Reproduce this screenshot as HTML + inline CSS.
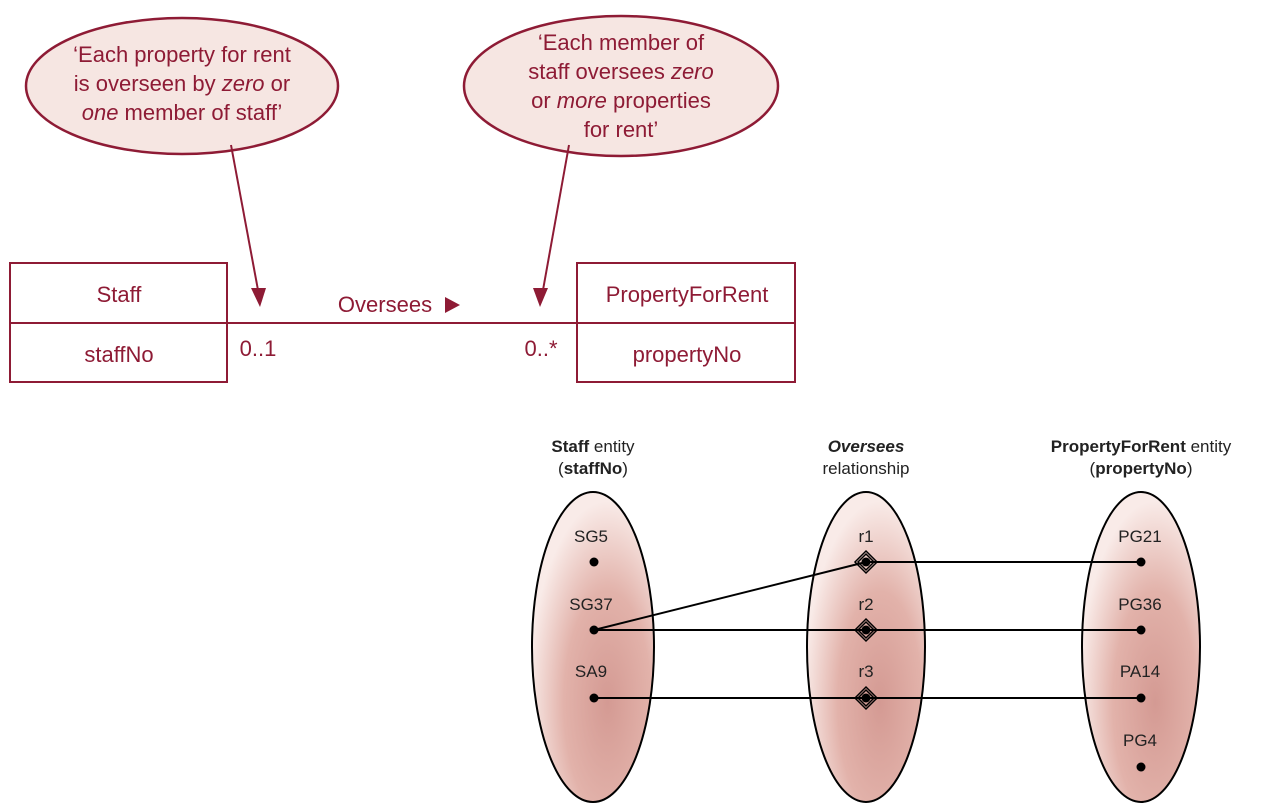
<!DOCTYPE html>
<html><head><style>body{margin:0;background:#fff}</style></head><body>
<svg width="1264" height="807" viewBox="0 0 1264 807" xmlns="http://www.w3.org/2000/svg">
<defs>
<radialGradient id="g" cx="0.62" cy="0.68" r="0.65">
<stop offset="0" stop-color="#d49a93"/><stop offset="0.55" stop-color="#e2b2aa"/><stop offset="1" stop-color="#f9ebe8"/>
</radialGradient>
</defs>
<g font-family="'Liberation Sans Narrow','Liberation Sans',sans-serif" fill="#8e1b35" font-size="22" text-anchor="middle">
<ellipse cx="182" cy="86" rx="156" ry="68" fill="#f6e6e2" stroke="#8e1b35" stroke-width="2.5"/>
<ellipse cx="621" cy="86" rx="157" ry="70" fill="#f6e6e2" stroke="#8e1b35" stroke-width="2.5"/>
<text x="182" y="62">‘Each property for rent</text>
<text x="182" y="91">is overseen by <tspan font-style="italic">zero</tspan> or</text>
<text x="182" y="120"><tspan font-style="italic">one</tspan> member of staff’</text>
<text x="621" y="50">‘Each member of</text>
<text x="621" y="79">staff oversees <tspan font-style="italic">zero</tspan></text>
<text x="621" y="108">or <tspan font-style="italic">more</tspan> properties</text>
<text x="621" y="137">for rent’</text>
<line x1="231" y1="145" x2="258" y2="290" stroke="#8e1b35" stroke-width="2"/>
<path d="M251,288 L266,288 L260,307 Z"/>
<line x1="569" y1="145" x2="543" y2="290" stroke="#8e1b35" stroke-width="2"/>
<path d="M533,288 L548,288 L540,307 Z"/>
<rect x="10" y="263" width="217" height="119" fill="none" stroke="#8e1b35" stroke-width="2"/>
<line x1="10" y1="323" x2="795" y2="323" stroke="#8e1b35" stroke-width="2"/>
<rect x="577" y="263" width="218" height="119" fill="none" stroke="#8e1b35" stroke-width="2"/>
<text x="119" y="302">Staff</text>
<text x="119" y="362">staffNo</text>
<text x="687" y="302">PropertyForRent</text>
<text x="687" y="362">propertyNo</text>
<text x="385" y="312">Oversees</text>
<path d="M445,297 L460,305 L445,313 Z"/>
<text x="258" y="356">0..1</text>
<text x="541" y="356">0..*</text>
</g>
<g font-family="'Liberation Sans Narrow','Liberation Sans',sans-serif" font-size="17" text-anchor="middle" fill="#222">
<text x="593" y="452"><tspan font-weight="bold">Staff</tspan> entity</text>
<text x="593" y="474">(<tspan font-weight="bold">staffNo</tspan>)</text>
<text x="866" y="452" font-weight="bold" font-style="italic">Oversees</text>
<text x="866" y="474">relationship</text>
<text x="1141" y="452"><tspan font-weight="bold">PropertyForRent</tspan> entity</text>
<text x="1141" y="474">(<tspan font-weight="bold">propertyNo</tspan>)</text>
<ellipse cx="593" cy="647" rx="61" ry="155" fill="url(#g)" stroke="#000" stroke-width="2"/>
<ellipse cx="866" cy="647" rx="59" ry="155" fill="url(#g)" stroke="#000" stroke-width="2"/>
<ellipse cx="1141" cy="647" rx="59" ry="155" fill="url(#g)" stroke="#000" stroke-width="2"/>
<g stroke="#000" stroke-width="2">
<line x1="594" y1="630" x2="866" y2="562"/>
<line x1="866" y1="562" x2="1141" y2="562"/>
<line x1="594" y1="630" x2="1141" y2="630"/>
<line x1="594" y1="698" x2="1141" y2="698"/>
</g>
<g fill="none" stroke="#000" stroke-width="1.5">
<path d="M866,551 L877,562 L866,573 L855,562 Z"/><path d="M866,554 L874,562 L866,570 L858,562 Z"/>
<path d="M866,619 L877,630 L866,641 L855,630 Z"/><path d="M866,622 L874,630 L866,638 L858,630 Z"/>
<path d="M866,687 L877,698 L866,709 L855,698 Z"/><path d="M866,690 L874,698 L866,706 L858,698 Z"/>
</g>
<g fill="#000">
<circle cx="594" cy="562" r="4.5"/><circle cx="594" cy="630" r="4.5"/><circle cx="594" cy="698" r="4.5"/>
<circle cx="866" cy="562" r="4.5"/><circle cx="866" cy="630" r="4.5"/><circle cx="866" cy="698" r="4.5"/>
<circle cx="1141" cy="562" r="4.5"/><circle cx="1141" cy="630" r="4.5"/><circle cx="1141" cy="698" r="4.5"/><circle cx="1141" cy="767" r="4.5"/>
</g>
<text x="591" y="542">SG5</text><text x="591" y="610">SG37</text><text x="591" y="677">SA9</text>
<text x="866" y="542">r1</text><text x="866" y="610">r2</text><text x="866" y="677">r3</text>
<text x="1140" y="542">PG21</text><text x="1140" y="610">PG36</text><text x="1140" y="677">PA14</text><text x="1140" y="746">PG4</text>
</g>
</svg>
</body></html>
